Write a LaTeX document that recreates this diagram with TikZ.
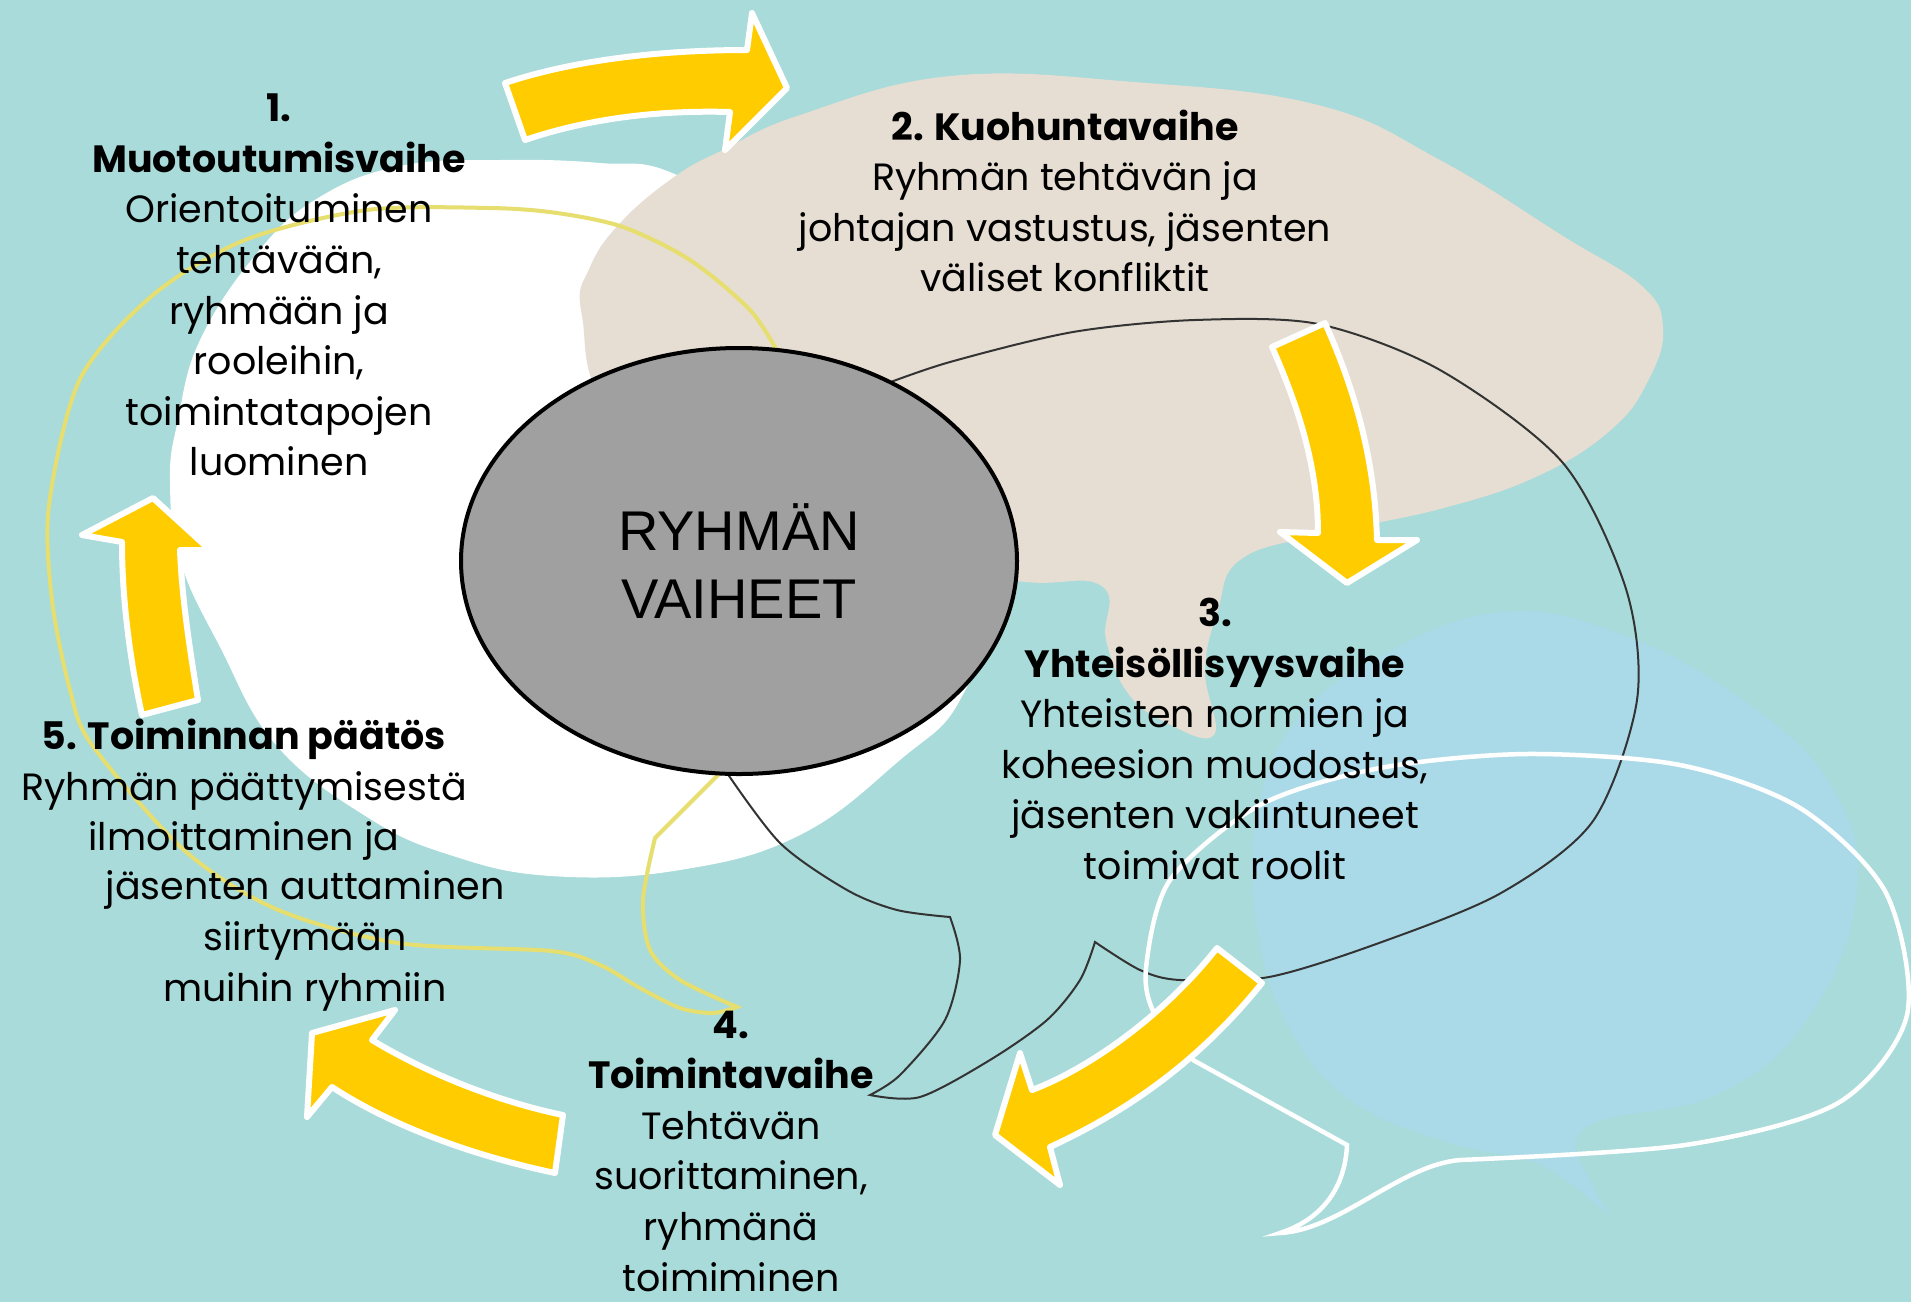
\documentclass[tikz,border=0pt]{standalone}
\usepackage{fontspec}
\setmainfont{Poppins}
\newfontfamily\corefont{Liberation Sans}
\usepackage{tikz}
\usetikzlibrary{shapes}
\definecolor{bgteal}{RGB}{168,219,217}
\definecolor{beige}{RGB}{230,221,211}
\definecolor{paleblue}{RGB}{170,218,232}
\definecolor{arrowyellow}{RGB}{255,204,0}
\definecolor{lineyellow}{RGB}{230,222,110}
\definecolor{coregray}{RGB}{160,160,160}
\tikzset{phase/.style={align=center,inner sep=0pt,font=\fontsize{38}{50.6}\selectfont},
  core/.style={ellipse,draw=black,line width=4pt,fill=coregray,minimum width=556pt,minimum height=426pt,align=center,font=\corefont\fontsize{56}{68}\selectfont},
  yarrow/.style={fill=arrowyellow,draw=white,line width=6pt,line join=round},
  blob/.style={smooth cycle,tension=0.7},
  yline/.style={draw=lineyellow,line width=4pt},
  kline/.style={draw=black!80,line width=2pt},
  wline/.style={draw=white,line width=4.5pt}}

\begin{document}
\begin{tikzpicture}[x=1pt,y=-1pt]
        \useasboundingbox (0,0) rectangle (1911,1302);
        \fill[bgteal] (0,0) rectangle (1911,1302);

        \fill[white] plot[blob] coordinates {(677,175) (800,250) (930,420) (985,600) (960,700) (900,760) (800,835) (680,870) (551,876) (450,855) (367,817) (276,745) (220,647) (180,560) (170,480) (178,420) (200,340) (257,253) (318,198) (400,166) (500,160) (600,163)};
        \fill[beige] plot[blob] coordinates {(582,316) (590,267) (623,220) (677,175) (723,150) (800,115) (950,76) (1134,82) (1318,105) (1440,160) (1563,236) (1642,286) (1663,328) (1649,379) (1612,429) (1538,476) (1440,509) (1318,535) (1240,560) (1218,610) (1205,670) (1214,735) (1165,722) (1127,692) (1106,640) (1100,585) (1000,578) (800,520) (620,420)};
        \fill[paleblue] plot[blob] coordinates {(1256,820) (1293,724) (1379,657) (1500,612) (1624,635) (1747,703) (1832,787) (1857,893) (1808,1019) (1716,1095) (1585,1128) (1595,1190) (1609,1214) (1540,1165) (1450,1143) (1350,1100) (1285,1020) (1256,920)};

        \draw[yline] plot[smooth] coordinates {(780,356) (750,310) (690,260) (623,227) (557,213) (490,208) (367,210) (245,240) (153,295) (80,379) (49,505) (52,600) (70,690) (92,745) (184,850) (276,909) (398,943) (551,951) (600,965) (640,988) (680,1008) (713,1013) (737,1007)} -- plot[smooth] coordinates {(737,1007) (680,980) (650,950) (643,900) (655,838)} -- (721,772);
        \draw[kline] plot[smooth] coordinates {(725,770) (780,843) (847,890) (897,910) (950,917)} -- plot[smooth] coordinates {(950,917) (960,960) (945,1020) (900,1075) (870,1095)} -- plot[smooth] coordinates {(870,1095) (920,1097) (990,1060) (1047,1020) (1080,980) (1095,942)} -- plot[smooth] coordinates {(1095,942) (1140,970) (1180,980) (1269,977) (1379,943) (1501,893) (1593,821) (1637,700) (1626,589) (1563,463) (1440,370) (1318,324) (1195,320) (1073,332) (950,362) (880,386)};
        \draw[wline] (1193,1060) -- (1347,1145) .. controls (1345,1190) and (1320,1220) .. (1280,1233) .. controls (1340,1230) and (1400,1165) .. (1460,1160) -- plot[smooth] coordinates {(1460,1160) (1685,1145) (1838,1103) (1907,1015) (1886,893) (1800,808) (1680,765) (1526,754) (1380,768) (1260,805) (1170,880) (1146,968) (1155,1015) (1193,1060)};

        \node[core] (core) at (739,561) {RYHMÄN\\VAIHEET};

        \draw[yarrow] (505,83) .. controls (580,58) and (670,50) .. (747,50) -- (752,13) -- (787,88) -- (725,150) -- (730,112) .. controls (660,110) and (590,118) .. (525,140) -- cycle;
        \draw[yarrow] (1272,347) -- (1325,323) .. controls (1355,390) and (1375,460) .. (1377,540) -- (1417,540) -- (1347,583) -- (1280,532) -- (1318,533) .. controls (1318,470) and (1300,410) .. (1272,347) -- cycle;
        \draw[yarrow] (1217,948) -- (1262,983) .. controls (1200,1060) and (1130,1110) .. (1050,1147) -- (1060,1185) -- (995,1135) -- (1020,1053) -- (1032,1090) .. controls (1085,1070) and (1160,1020) .. (1217,948) -- cycle;
        \draw[yarrow] (563,1115) -- (555,1173) .. controls (470,1155) and (390,1125) .. (332,1087) -- (307,1117) -- (312,1033) -- (395,1010) -- (372,1040) .. controls (430,1075) and (500,1102) .. (563,1115) -- cycle;
        \draw[yarrow] (142,715) -- (198,700) .. controls (190,650) and (182,600) .. (180,550) -- (210,550) -- (153,498) -- (82,535) -- (122,542) .. controls (122,600) and (130,660) .. (142,715) -- cycle;

        \node[phase] (t1) at (279,285) {\textbf{1.}\\\textbf{Muotoutumisvaihe}\\Orientoituminen\\tehtävään,\\ryhmään ja\\rooleihin,\\toimintatapojen\\luominen};
        \node[phase] (t2) at (1065,201) {\textbf{2. Kuohuntavaihe}\\Ryhmän tehtävän ja\\johtajan vastustus, jäsenten\\väliset konfliktit};
        \node[phase] (t3) at (1215,739) {\textbf{3.}\\\textbf{Yhteisöllisyysvaihe}\\Yhteisten normien ja\\koheesion muodostus,\\jäsenten vakiintuneet\\toimivat roolit};
        \node[phase] (t4) at (731,1151) {\textbf{4.}\\\textbf{Toimintavaihe}\\Tehtävän\\suorittaminen,\\ryhmänä\\toimiminen};
        \node[phase] (t5a) at (244,790) {\textbf{5. Toiminnan päätös}\\Ryhmän päättymisestä\\ilmoittaminen ja};
        \node[phase] (t5b) at (305,941) {jäsenten auttaminen\\siirtymään\\muihin ryhmiin};
    \end{tikzpicture}
\end{document}
